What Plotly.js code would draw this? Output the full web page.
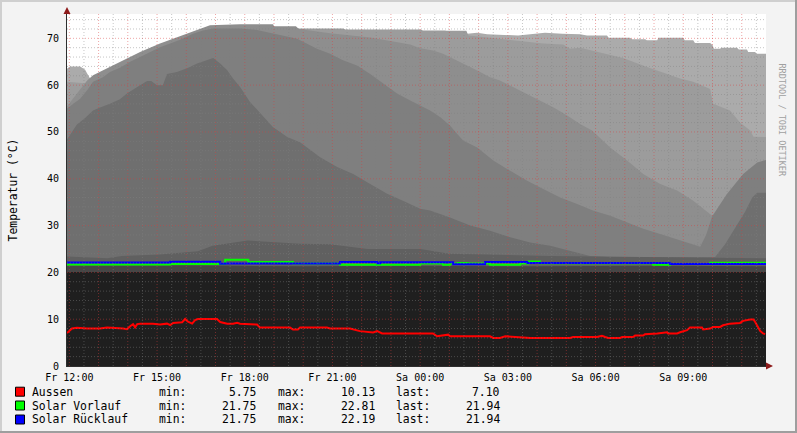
<!DOCTYPE html>
<html><head><meta charset="utf-8">
<script src="https://cdn.plot.ly/plotly-3.0.1.min.js"></script>
<style>
html,body{margin:0;padding:0;background:#F3F3F3;}
#wrap{position:relative;width:797px;height:433px;overflow:hidden;}
#chart{position:absolute;left:0;top:0;width:797px;height:433px;}
.b{position:absolute;pointer-events:none;}
</style></head><body>
<div id="wrap"><div id="chart"></div>
<div class="b" style="left:0;top:0;width:797px;height:2px;background:#CFCFCF"></div>
<div class="b" style="left:0;top:0;width:2px;height:433px;background:#CFCFCF"></div>
<div class="b" style="left:0;bottom:0;width:797px;height:2px;background:#9E9E9E"></div>
<div class="b" style="right:0;top:0;width:2px;height:433px;background:#9E9E9E"></div>
</div>
<script>
// ---- time axis (hours since Fr 12:00) ----
const tickHours = [0, 3, 6, 9, 12, 15, 18, 21];
const tickLabels = ['Fr 12:00','Fr 15:00','Fr 18:00','Fr 21:00','Sa 00:00','Sa 03:00','Sa 06:00','Sa 09:00'];
const yTicks = [0, 10, 20, 30, 40, 50, 60, 70];

// ---- buffer-tank layers (grey areas, lightest drawn first) ----
const tS1 = [-0.08,0.02,0.37,0.54,0.61,0.71,0.81,1.05,2.0,3.0,4.5,6.0,8.0,11.0,13.4,13.61,13.95,14.29,15.35,16.27,16.86,17.47,17.71,18.39,18.45,19.18,19.25,19.70,19.75,20.11,20.15,21.0,21.05,21.34,21.4,21.92,22.0,22.05,22.26,22.3,22.84,22.9,23.18,23.22,23.46,23.5,23.83];
const vS1 = [63.5,64,64,63.3,62.5,61.4,59.5,59,60,62,66,68.5,69.5,70.3,70.8,71.0,71.2,70.9,70.6,71.2,71.0,70.9,70.6,70.6,70.1,70.1,69.8,69.8,69.6,69.6,70.1,70.1,69.6,69.6,69.0,69.0,68.6,67.8,67.8,68.0,68.0,67.6,67.6,67.1,67.1,66.7,66.7];

const tS2 = [-0.08,0.37,0.71,1.0,2.0,3.0,4.5,6.0,7.5,7.79,9.36,9.45,12.0,12.1,12.85,12.9,13.58,13.65,14.73,15.86,16.21,16.89,17.13,17.47,18.94,19.76,20.89,21.34,21.92,22.02,22.60,22.94,23.29,23.40,23.83];
const vS2 = [60.7,60.5,60.3,60,62,64.5,70,71.5,72.0,72.1,72.1,71.9,71.9,71.7,71.7,71.6,71.6,70.6,69.9,69.2,68.9,68.7,67.8,68.0,65.8,63.9,61.4,60.7,59.2,56,54.6,52,50.3,49,48.9];

const tS3 = [-0.08,0.37,0.61,0.81,1.39,2.42,3.10,4.81,5.84,6.97,7.0,7.75,7.85,8.92,10.29,11.31,11.66,12.0,12.44,12.78,13.02,13.37,13.71,14.05,14.39,14.73,15.08,15.42,15.76,16.10,16.55,17.03,17.47,17.88,18.50,19.08,19.63,20.21,20.79,21.34,21.99,22.5,23.83];
const vS3 = [55.5,59,61,62.1,63.9,67.1,68.9,72.8,73.0,73.0,72.6,72.6,72.0,71.1,70.2,69.2,68.7,67.9,67.4,66.7,66.0,64.9,63.9,62.8,61.7,61.0,59.9,58.9,57.8,56.7,55.3,53.5,51.7,50.3,46.7,43.9,41.0,38.9,37.5,35.3,32.1,30,28];

const tS4 = [-0.08,0.13,0.37,0.61,0.81,1.15,1.39,1.73,2.08,2.42,2.76,3.10,3.45,3.79,4.23,4.57,4.92,5.84,6.42,7.79,8.47,8.92,9.36,9.84,10.29,10.73,11.21,11.66,12.0,12.34,12.68,13.02,13.26,13.47,13.95,14.50,15.08,15.66,16.21,16.79,17.37,17.91,18.50,19.08,19.63,20.21,20.79,21.34,21.58,21.78,21.99,22.50,23.05,23.53,23.83];
const vS4 = [55,56,57.1,58.9,60.7,61.7,62.8,63.7,65,66,67.1,68.1,68.9,69.7,71,71.7,72.1,72.1,71.8,69.9,67.8,66.7,65.3,64.2,62.4,60.3,58.2,56.7,55.7,54.6,53.2,51.4,49.6,48.2,46.7,43.9,41.7,39.6,37.8,36.0,34.6,33.2,32.1,30.7,29.3,28.2,27.1,26.1,25.5,28,32,36.8,41,43.5,44];

const tS5 = [-0.08,0.26,0.54,0.81,1.05,1.39,1.73,1.97,2.42,2.66,2.80,3.0,3.2,3.34,3.68,4.03,4.37,4.71,4.92,5.16,5.40,5.60,5.84,6.18,6.63,6.97,7.21,7.45,7.89,8.58,9.16,9.71,10.29,10.87,11.41,12.0,12.34,13.02,13.71,14.39,15.08,15.76,16.45,17.13,17.81,18.5,22.09,22.43,22.78,23.12,23.36,23.53,23.83];
const vS5 = [48.4,51.6,53,54.6,55.2,56,57,58.2,60,60.9,60.9,60.0,60.0,62.4,62.8,63.6,64.6,65.3,65.8,64.6,63.2,61.4,59.6,56.4,53.3,51.0,50.0,48.9,47.8,44.6,42.5,41.0,38.9,36.8,35.3,33.6,33.2,31.7,30.0,28.9,27.5,26.4,25.7,24.6,23.5,23.3,23.3,26,29.5,33,36,37,37];

const tS6 = [-0.08,1.3,1.8,3.1,4.4,4.9,6.1,7.9,8.9,10.2,12.0,13.0,16.4,18.2,21.6,23.83];
const vS6 = [23.4,23.0,23.5,23.8,24.5,25.7,26.8,26.1,26.0,25.0,25.0,24.0,23.5,23.4,23.2,23.0];

const tS7 = [-0.08,4,8,12,16,20,23.83];
const vS7 = [21.4,21.5,21.3,21.4,21.3,21.4,21.3];

const tS8 = [-0.08,6,12,18,23.83];
const vS8 = [20.1,20.1,20.1,20.1,20.1];

const layerT = [tS1,tS2,tS3,tS4,tS5,tS6,tS7,tS8];
const layerV = [vS1,vS2,vS3,vS4,vS5,vS6,vS7,vS8];
const layerColors = ['#ABABAB','#9C9C9C','#8E8E8E','#7F7F7F','#6F6F6F','#606060','#464646','#1F1F1F'];

// ---- measured lines ----
const tAussen = [-0.08,0.02,0.09,0.26,0.61,1.05,1.29,1.84,1.97,2.08,2.18,2.25,2.32,2.42,2.86,3.10,3.34,3.45,3.55,3.86,3.96,4.06,4.20,4.30,4.40,5.05,5.16,5.40,5.60,5.74,5.84,6.42,6.52,7.55,7.65,7.82,7.89,8.81,8.92,9.60,9.94,10.39,10.53,10.70,12.44,12.58,12.78,12.96,13.02,14.39,14.50,14.73,14.91,15.42,15.76,17.13,17.23,18.05,18.22,18.33,18.43,18.84,18.91,19.28,19.35,19.63,19.69,20.11,20.45,20.48,20.79,20.89,21.13,21.23,21.64,21.68,21.92,22.02,22.26,22.36,22.60,22.94,23.05,23.29,23.40,23.46,23.56,23.63,23.73,23.80];
const vAussen = [7.05,7.65,8.0,8.15,8.0,8.0,8.2,8.0,7.85,8.5,8.95,8.25,8.95,9.05,9.05,8.85,9.05,8.75,9.2,9.35,10.05,9.45,9.05,9.8,10.05,10.05,9.4,9.05,9.05,9.25,9.05,8.85,8.2,8.2,7.8,7.8,8.2,8.2,8.0,8.0,7.45,7.15,7.45,6.95,6.95,6.35,6.55,6.7,6.35,6.35,6.0,6.0,6.35,6.15,6.0,6.0,6.2,6.2,6.45,6.2,6.0,6.0,6.2,6.2,6.5,6.5,6.8,6.95,7.2,6.95,6.95,7.2,7.65,8.2,8.2,7.8,8.0,8.35,8.35,8.7,9.05,9.2,9.65,9.95,9.95,9.4,8.2,7.5,6.95,6.8];

const tVorlauf = [-0.08,3.45,5.33,6.12,7.65,9.26,12.0,12.78,13.02,13.30,13.61,14.39,15.42,15.69,16.10,19.97,20.55,21.92,23.83];
const vVorlauf = [21.7,21.8,22.7,22.2,21.9,21.65,21.9,21.65,21.9,22.0,21.9,21.65,21.9,22.3,21.95,21.65,21.8,22.05,22.05];

const tRuecklauf = [-0.08,3.45,5.16,5.33,9.26,10.53,10.63,13.13,14.22,15.66,20.55,23.83];
const vRuecklauf = [22.1,22.25,21.85,21.9,22.2,21.95,22.15,21.75,22.2,22.0,21.8,21.8];

// ---- legend ----
const legNames = ['Aussen','Solar Vorlauf','Solar Rücklauf'];
const legColors = ['#FF0000','#00FF00','#0000FF'];
const legMin = [5.75, 21.75, 21.75];
const legMax = [10.13, 22.81, 22.19];
const legLast = [7.10, 21.94, 21.94];

// ---- geometry helpers (pixel -> paper) ----
const W = 797, H = 433, PL = 67, PR = 766, PT = 14, PB = 366;
const px = x => (x - PL) / (PR - PL);
const py = y => (PB - y) / (PB - PT);
const mono = 'DejaVu Sans Mono';

const traces = [];
for (let i = 0; i < layerT.length; i++) {
  traces.push({x: layerT[i], y: layerV[i], type: 'scatter', mode: 'lines', fill: 'tozeroy',
    fillcolor: layerColors[i], line: {width: 0, color: layerColors[i]}, hoverinfo: 'skip', showlegend: false});
}
traces.push({x: tAussen, y: vAussen, type: 'scatter', mode: 'lines', name: legNames[0], line: {color: legColors[0], width: 2}});
traces.push({x: tVorlauf, y: vVorlauf, type: 'scatter', mode: 'lines', name: legNames[1], line: {color: legColors[1], width: 2, shape: 'hv'}});
traces.push({x: tRuecklauf, y: vRuecklauf, type: 'scatter', mode: 'lines', name: legNames[2], line: {color: legColors[2], width: 2, shape: 'hv'}});

// grid drawn above the areas (as RRDtool does)
const minorC = 'rgba(128,128,128,0.45)', majorC = 'rgba(220,60,60,0.45)', dots = '1px,2px';
const shapes = [];
for (let k = 0; k * 0.5 <= 23.83; k++) {
  const h = k * 0.5;
  shapes.push({type: 'line', xref: 'x', yref: 'paper', x0: h, x1: h, y0: 0, y1: 1, layer: 'above',
    line: {color: k % 2 === 0 ? majorC : minorC, width: 1, dash: dots}});
}
for (let v = 2; v <= 75; v += 2) {
  shapes.push({type: 'line', xref: 'paper', yref: 'y', x0: 0, x1: 1, y0: v, y1: v, layer: 'above',
    line: {color: v % 10 === 0 ? majorC : minorC, width: 1, dash: dots}});
}
const rowY = [391.7, 405.5, 419.5];
const annotations = [];
for (let i = 0; i < 3; i++) {
  shapes.push({type: 'rect', xref: 'paper', yref: 'paper', x0: px(15.5), x1: px(24.5), y0: py(rowY[i] + 4.5), y1: py(rowY[i] - 4.5),
    fillcolor: legColors[i], line: {color: '#000', width: 1}});
  const f = {family: mono, size: 11.4, color: '#000'};
  const add = (x, text, anchor) => annotations.push({xref: 'paper', yref: 'paper', x: px(x), y: py(rowY[i]), text: text,
    showarrow: false, xanchor: anchor, yanchor: 'middle', font: f, borderpad: 0});
  add(30.5, legNames[i], 'left');
  add(158, 'min:', 'left');
  add(257, legMin[i].toFixed(2), 'right');
  add(277, 'max:', 'left');
  add(375.5, legMax[i].toFixed(2), 'right');
  add(395, 'last:', 'left');
  add(501, legLast[i].toFixed(2), 'right');
}
annotations.push({xref: 'paper', yref: 'paper', x: px(788.5), y: py(61.5), text: 'RRDTOOL / TOBI OETIKER', textangle: 90,
  showarrow: false, font: {family: mono, size: 8.5, color: '#A0A0A0'}});
annotations.push({xref: 'paper', yref: 'paper', x: 0, y: py(7), ax: 0, ay: 8, text: '', showarrow: true,
  arrowhead: 2, arrowsize: 1.4, arrowwidth: 1, arrowcolor: '#8E1B1B'});
annotations.push({xref: 'paper', yref: 'paper', x: px(773), y: 0, ax: -8, ay: 0, text: '', showarrow: true,
  arrowhead: 2, arrowsize: 1.4, arrowwidth: 1, arrowcolor: '#8E1B1B'});

const layout = {
  width: W, height: H,
  margin: {l: PL, r: W - PR, t: PT, b: H - PB, pad: 0},
  paper_bgcolor: '#F3F3F3', plot_bgcolor: '#FFFFFF',
  showlegend: false,
  xaxis: {range: [-0.08, 23.83], showgrid: false, zeroline: false, showline: true, linecolor: '#2E2E2E', linewidth: 1,
    tickmode: 'array', tickvals: tickHours, ticktext: tickLabels, ticks: '', ticklabelstandoff: 2,
    tickfont: {family: mono, size: 10, color: '#000'}},
  yaxis: {range: [0, 75.2], showgrid: false, zeroline: false, showline: true, linecolor: '#2E2E2E', linewidth: 1,
    tickmode: 'array', tickvals: yTicks, ticks: '', ticklabelstandoff: 5,
    tickfont: {family: mono, size: 10, color: '#000'},
    title: {text: 'Temperatur (°C)', font: {family: mono, size: 11.4, color: '#000'}, standoff: 26}},
  shapes: shapes,
  annotations: annotations
};
Plotly.newPlot('chart', traces, layout, {staticPlot: true, displayModeBar: false});
</script>
</body></html>
